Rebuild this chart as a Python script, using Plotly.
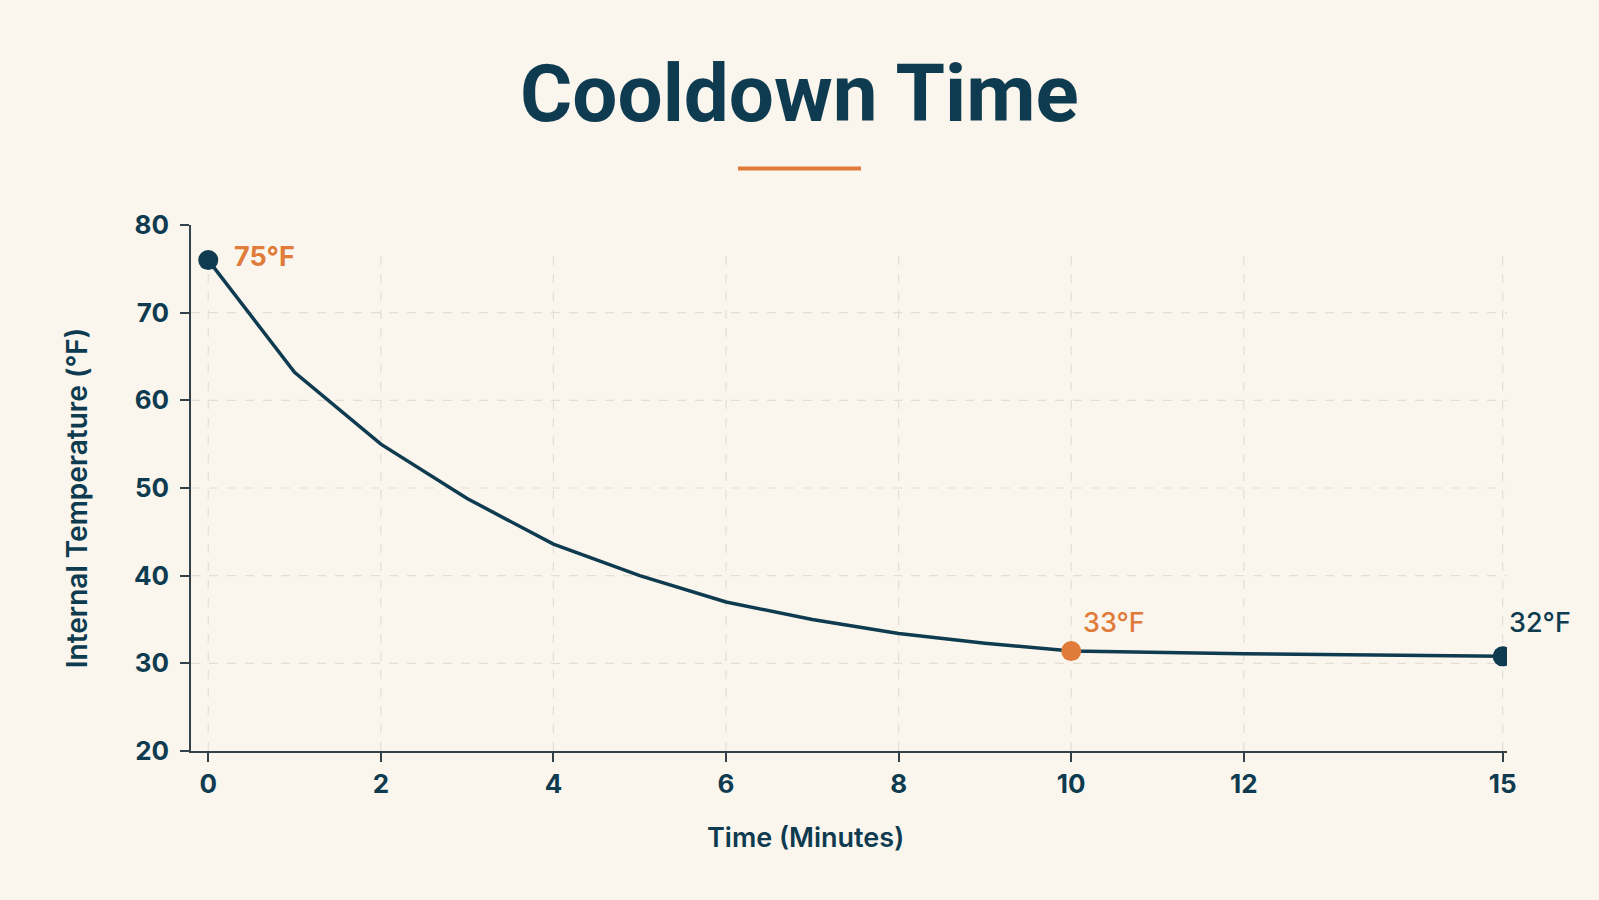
import plotly.graph_objects as go

# ---- data ----
time_min = [0, 1, 2, 3, 4, 5, 6, 7, 8, 9, 10, 12, 15]
temp_f = [76.0, 63.2, 55.0, 48.8, 43.6, 40.0, 37.0, 35.0, 33.4, 32.3, 31.4, 31.1, 30.8]
x_ticks = [0, 2, 4, 6, 8, 10, 12, 15]
y_ticks = [20, 30, 40, 50, 60, 70, 80]
grid_y = [30, 40, 50, 60, 70]
callout_idx = [0, 10, 12]
callout_text = ["75°F", "33°F", "32°F"]

# ---- style ----
W, H = 1599, 900
L, R, T, B = 191, 1507, 224.5, 751
BG = "#FAF6EE"
NAVY = "#0E3B4F"
ORANGE = "#E07B39"
AXIS = "#33424A"
GRID = "#E4DED4"
FONT = "Inter"

def px_x(px):
    return (px - L) / (R - L)

def px_y(py):
    return (B - py) / (B - T)

mk_colors = [NAVY, ORANGE, NAVY]
lbl_colors = [ORANGE, ORANGE, NAVY]
lbl_weights = [700, 500, 500]
lbl_shift = [(24, 4), (10, 29), (4, 34)]

fig = go.Figure()
fig.add_trace(go.Scatter(
    x=time_min, y=temp_f, mode="lines",
    line=dict(color=NAVY, width=3.5), hoverinfo="skip", showlegend=False))
fig.add_trace(go.Scatter(
    x=[time_min[i] for i in callout_idx], y=[temp_f[i] for i in callout_idx],
    mode="markers", marker=dict(size=20, color=mk_colors, line=dict(width=0)),
    hoverinfo="skip", showlegend=False))

shapes = []
for xv in x_ticks:
    shapes.append(dict(type="line", xref="x", yref="y", x0=xv, x1=xv, y0=20, y1=76.9,
                       line=dict(color=GRID, width=1.2, dash="dash"), layer="below"))
for yv in grid_y:
    shapes.append(dict(type="line", xref="paper", yref="y", x0=0, x1=1, y0=yv, y1=yv,
                       line=dict(color=GRID, width=1.2, dash="dash"), layer="below"))
# title underline
shapes.append(dict(type="line", xref="paper", yref="paper", x0=px_x(738), x1=px_x(861),
                   y0=px_y(168), y1=px_y(168), line=dict(color=ORANGE, width=4)))

annotations = []
for k, i in enumerate(callout_idx):
    annotations.append(dict(
        x=time_min[i], y=temp_f[i], xref="x", yref="y", text=callout_text[k],
        showarrow=False, xanchor="left", yanchor="middle",
        xshift=lbl_shift[k][0], yshift=lbl_shift[k][1],
        font=dict(family=FONT, size=27, color=lbl_colors[k], weight=lbl_weights[k])))
annotations.append(dict(
    x=px_x(799), y=px_y(93), xref="paper", yref="paper", text="Cooldown Time",
    showarrow=False, xanchor="center", yanchor="middle",
    font=dict(family="Roboto", size=80, color=NAVY, weight=700)))
annotations.append(dict(
    x=px_x(805), y=px_y(838), xref="paper", yref="paper", text="Time (Minutes)",
    showarrow=False, xanchor="center", yanchor="middle",
    font=dict(family=FONT, size=27, color=NAVY, weight=600)))
annotations.append(dict(
    x=px_x(77), y=px_y(498), xref="paper", yref="paper", text="Internal Temperature (°F)",
    showarrow=False, xanchor="center", yanchor="middle", textangle=-90,
    font=dict(family=FONT, size=28, color=NAVY, weight=600)))

tickfont = dict(family=FONT, size=26, color=NAVY, weight=700)
fig.update_layout(
    width=W, height=H,
    margin=dict(l=L, r=W - R, t=T, b=H - B),
    paper_bgcolor=BG, plot_bgcolor=BG,
    shapes=shapes, annotations=annotations,
    xaxis=dict(range=[-0.2, 15.05], tickvals=x_ticks, showgrid=False, zeroline=False,
               showline=True, linecolor=AXIS, linewidth=1.5, ticks="outside",
               ticklen=9, tickcolor=AXIS, tickwidth=1.5, tickfont=tickfont),
    yaxis=dict(range=[20, 80], tickvals=y_ticks, showgrid=False, zeroline=False,
               showline=True, linecolor=AXIS, linewidth=1.5, ticks="outside",
               ticklen=9, tickcolor=AXIS, tickwidth=1.5, tickfont=tickfont,
               ticklabelstandoff=6),
)

fig.write_html("out.html")
